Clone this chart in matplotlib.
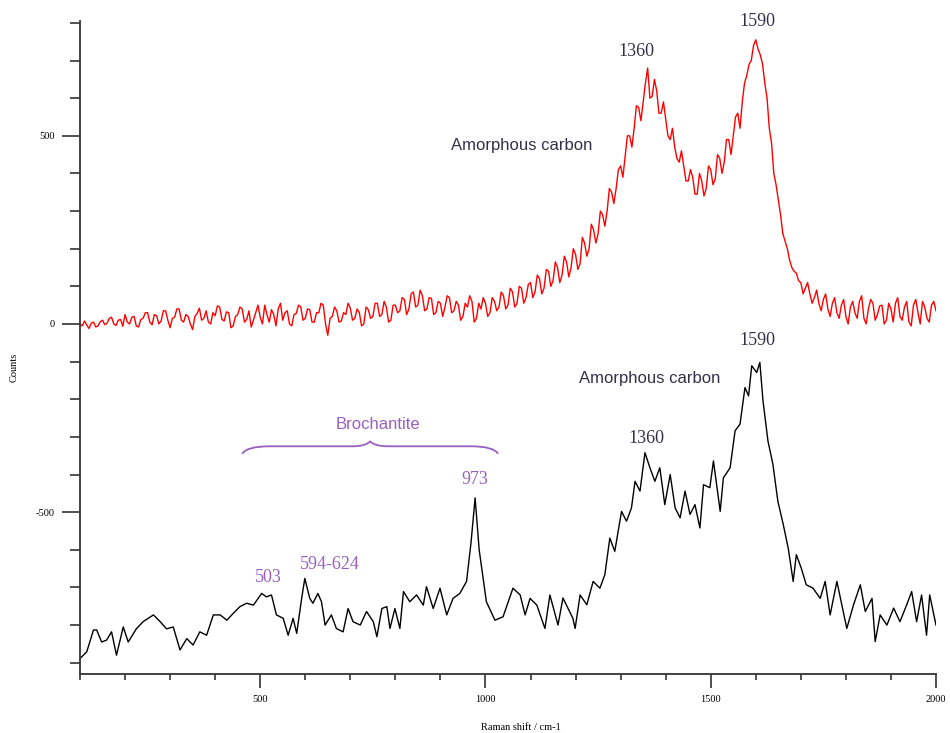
import matplotlib
matplotlib.use("Agg")
import matplotlib.pyplot as plt
from matplotlib.ticker import MultipleLocator
from matplotlib.path import Path
from matplotlib.patches import PathPatch

plt.rcParams["axes.unicode_minus"] = False

# ---- data ----
red_x = list(range(100, 2001, 5))
red_y = [0, -5, 8, -3, -12, 2, 5, -8, -5, 6, 10, -2, 2, 15, 18, 0, -4, 10, 12, -6,
         25, 5, 0, 18, 20, -5, -8, 12, 15, 30, 30, 5, -2, 25, 22, 0, 8, 35, 35, 10,
         -10, 15, 18, 40, 40, 10, 5, 25, 20, 0, -15, 20, 28, 42, 10, 15, 35, 5, 0, 30,
         22, 48, 45, 12, 8, 32, 30, -10, -5, 20, 25, 45, 40, 5, 12, 35, -8, 10, 30, 50,
         18, 0, 50, 25, 5, 38, 25, -5, 40, 55, 10, 30, 35, 0, -5, 25, 28, 50, 45, 10,
         15, 40, 38, 5, 5, 30, 30, 55, 50, 0, -30, 15, 20, 45, 35, 5, 8, 30, 25, 55,
         42, 10, 15, 40, 30, -5, 0, 45, 38, 15, 20, 55, 55, 20, 25, 60, 45, 5, 10, 50,
         50, 30, 35, 70, 65, 25, 40, 80, 85, 45, 50, 90, 75, 35, 40, 70, 68, 25, 30, 60,
         55, 20, 45, 75, 70, 30, 35, 60, 50, 10, 20, 55, 45, 75, 60, 5, 15, 55, 40, 70,
         55, 20, 30, 70, 60, 35, 45, 85, 75, 40, 50, 95, 85, 45, 55, 100, 95, 55, 70, 105,
         110, 70, 85, 130, 120, 80, 95, 145, 140, 100, 115, 165, 150, 110, 130, 180, 165, 125, 150, 200,
         185, 145, 160, 230, 215, 180, 200, 265, 250, 215, 240, 300, 290, 260, 300, 360, 350, 320, 360, 410,
         420, 390, 445, 500, 500, 470, 520, 580, 575, 540, 590, 640, 680, 600, 605, 650, 620, 560, 560, 590,
         545, 500, 490, 520, 470, 440, 430, 460, 420, 380, 380, 410, 390, 345, 345, 400, 380, 340, 360, 420,
         410, 370, 385, 450, 440, 400, 430, 490, 490, 450, 500, 550, 560, 520, 590, 640, 660, 690, 700, 740,
         755, 730, 715, 690, 640, 600, 520, 480, 400, 370, 330, 290, 240, 220, 200, 170, 150, 140, 135, 115,
         110, 80, 95, 110, 80, 55, 70, 90, 55, 35, 65, 80, 40, 20, 55, 70, 30, 15, 50, 65,
         20, 0, 45, 60, 30, 15, 60, 75, 15, 0, 40, 65, 55, 10, 25, 48, 50, 0, 10, 55,
         40, 5, 55, 70, 20, 10, 45, 60, 5, -5, 50, 65, 30, 0, 60, 45, 15, 5, 50, 60,
         35]

black_x = [100, 115, 130, 137, 148, 159, 170, 181, 196, 207, 225, 240, 263, 278,
           292, 307, 322, 337, 351, 366, 381, 396, 411, 426, 440, 455, 470, 485,
           503, 514, 525, 536, 551, 562, 573, 581, 592, 599, 610, 617, 628, 636,
           644, 658, 669, 684, 695, 706, 722, 736, 751, 759, 770, 781, 788, 799,
           810, 818, 832, 847, 862, 869, 884, 899, 914, 928, 943, 958, 968, 977,
           986, 1002, 1021, 1039, 1061, 1077, 1088, 1099, 1114, 1132, 1143, 1161,
           1172, 1194, 1199, 1210, 1225, 1239, 1254, 1265, 1276, 1287, 1302, 1313,
           1324, 1332, 1343, 1354, 1365, 1376, 1387, 1398, 1410, 1421, 1432, 1443,
           1454, 1465, 1476, 1484, 1498, 1506, 1521, 1528, 1543, 1554, 1565, 1576,
           1584, 1591, 1602, 1609, 1616, 1627, 1638, 1649, 1661, 1672, 1683, 1690,
           1701, 1712, 1727, 1743, 1754, 1765, 1780, 1791, 1802, 1817, 1832, 1843,
           1858, 1865, 1876, 1891, 1906, 1920, 1935, 1946, 1957, 1968, 1979, 1986,
           2000]
black_y = [-889, -871, -813, -813, -845, -840, -818, -880, -805, -845, -810, -791, -773, -791,
           -810, -805, -866, -836, -853, -818, -827, -773, -773, -787, -769, -751, -742, -747,
           -716, -725, -720, -773, -782, -827, -782, -822, -729, -676, -729, -742, -716, -738,
           -800, -773, -809, -818, -756, -791, -800, -764, -791, -831, -756, -751, -809, -756,
           -809, -711, -738, -720, -747, -698, -756, -702, -773, -729, -716, -684, -580, -462,
           -600, -738, -787, -778, -702, -720, -773, -729, -747, -809, -720, -800,
           -728, -782, -809, -720, -746, -684, -702, -666, -569, -604, -498, -524,
           -489, -418, -444, -342, -382, -418, -382, -480, -400, -489, -515, -444,
           -506, -480, -542, -427, -435, -364, -498, -409, -382, -284, -266, -169,
           -191, -111, -129, -102, -204, -311, -373, -471, -533, -596, -684, -613,
           -649, -693, -702, -729, -684, -773, -684, -746, -809, -746, -693, -764,
           -729, -844, -773, -800, -755, -791, -746, -711, -791, -720, -827, -720,
           -800]

x_ticks = [500, 1000, 1500, 2000]
y_ticks = [-500, 0, 500]

purple = "#9a5fc0"
dark = "#33304a"

fig = plt.figure(figsize=(9.5, 7.33), dpi=100)
ax = fig.add_axes([80/950, (733-674)/733, (936-80)/950, (674-21)/733])

ax.plot(red_x, red_y, color="#ff0000", lw=1.0)
ax.plot(black_x, black_y, color="black", lw=1.0)

ax.set_xlim(100, 2000)
ax.set_ylim(-930, 805)

for s in ["top", "right"]:
    ax.spines[s].set_visible(False)
for s in ["left", "bottom"]:
    ax.spines[s].set_linewidth(1.3)
    ax.spines[s].set_color("#333333")

ax.set_xticks(x_ticks)
ax.set_yticks(y_ticks)
ax.xaxis.set_minor_locator(MultipleLocator(100))
ax.yaxis.set_minor_locator(MultipleLocator(100))
ax.tick_params(axis="y", which="major", length=13, width=1.2, direction="out", color="#333333")
ax.tick_params(axis="y", which="minor", length=7, width=1.2, direction="out", color="#333333")
ax.tick_params(axis="x", which="major", length=10, width=1.2, direction="out", color="#333333")
ax.tick_params(axis="x", which="minor", length=4, width=1.2, direction="out", color="#333333")
for lab in ax.get_xticklabels() + ax.get_yticklabels():
    lab.set_fontfamily("Liberation Serif")
    lab.set_fontsize(7.5)
ax.tick_params(axis="both", which="major", pad=5)

ax.set_xlabel("Raman shift / cm-1", fontfamily="Liberation Serif", fontsize=7.5)
ax.set_ylabel("Counts", fontfamily="Liberation Serif", fontsize=7.5)
ax.xaxis.set_label_coords(0.515, -0.075)
ax.yaxis.set_label_coords(-0.072, 0.47)

serif = dict(fontfamily="Liberation Serif", fontsize=13, color=dark, ha="center", va="center")
sans = dict(fontfamily="Liberation Sans", fontsize=12, color=dark, ha="center", va="center")
psans = dict(fontfamily="Liberation Sans", fontsize=12, color=purple, ha="center", va="center")
pserif = dict(fontfamily="Liberation Serif", fontsize=13, color=purple, ha="center", va="center")

ax.text(1603, 803, "1590", **serif)
ax.text(1336, 723, "1360", **serif)
ax.text(1081, 475, "Amorphous carbon", **sans)
ax.text(1603, -45, "1590", **serif)
ax.text(1365, -145, "Amorphous carbon", **sans)
ax.text(1358, -303, "1360", **serif)
ax.text(762, -266, "Brochantite", **psans)
ax.text(977, -412, "973", **pserif)
ax.text(517, -673, "503", **pserif)
ax.text(655, -639, "594-624", **pserif)

# curly brace over the brochantite region
bx0, bx1, bxc = 460, 1028, 744
yb_end, yb_line, yb_tip = -345, -325, -312
verts = [(bx0, yb_end), (bx0 + 10, yb_line), (bx0 + 60, yb_line), (bxc - 40, yb_line),
         (bxc - 10, yb_line), (bxc, yb_tip),
         (bxc + 10, yb_line), (bxc + 40, yb_line),
         (bx1 - 60, yb_line), (bx1 - 10, yb_line), (bx1, yb_end)]
codes = [Path.MOVETO, Path.CURVE3, Path.CURVE3, Path.LINETO,
         Path.CURVE3, Path.CURVE3,
         Path.CURVE3, Path.CURVE3,
         Path.LINETO, Path.CURVE3, Path.CURVE3]
ax.add_patch(PathPatch(Path(verts, codes), fill=False, edgecolor=purple, lw=1.3))

fig.savefig("out.png", dpi=100)
